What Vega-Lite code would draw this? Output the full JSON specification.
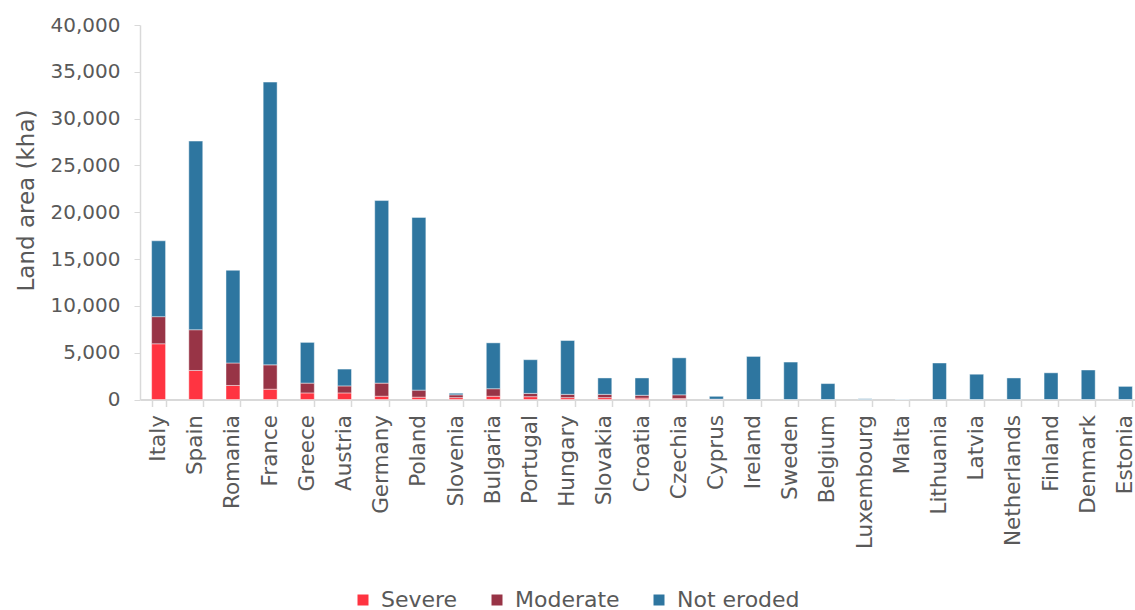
{
  "$schema": "https://vega.github.io/schema/vega-lite/v6.json",
  "autosize": {"type": "none"},
  "width": 995,
  "height": 374.5,
  "padding": {"left": 140, "top": 25, "right": 0, "bottom": 210.5},
  "background": "white",
  "config": {
    "view": {"stroke": null},
    "font": "DejaVu Sans",
    "axis": {"labelColor": "#595959", "titleColor": "#595959", "domainColor": "#d9d9d9", "tickColor": "#d9d9d9", "grid": false, "labelFont": "DejaVu Sans", "titleFont": "DejaVu Sans", "titleFontWeight": "normal"},
    "legend": {"labelColor": "#595959", "labelFont": "DejaVu Sans"}
  },
  "data": {
    "values": [
      {"country": "Italy", "class": "Severe", "kha": 5950}, {"country": "Italy", "class": "Moderate", "kha": 2900}, {"country": "Italy", "class": "Not eroded", "kha": 8100},
      {"country": "Spain", "class": "Severe", "kha": 3100}, {"country": "Spain", "class": "Moderate", "kha": 4350}, {"country": "Spain", "class": "Not eroded", "kha": 20150},
      {"country": "Romania", "class": "Severe", "kha": 1500}, {"country": "Romania", "class": "Moderate", "kha": 2400}, {"country": "Romania", "class": "Not eroded", "kha": 9900},
      {"country": "France", "class": "Severe", "kha": 1100}, {"country": "France", "class": "Moderate", "kha": 2600}, {"country": "France", "class": "Not eroded", "kha": 30200},
      {"country": "Greece", "class": "Severe", "kha": 700}, {"country": "Greece", "class": "Moderate", "kha": 1050}, {"country": "Greece", "class": "Not eroded", "kha": 4350},
      {"country": "Austria", "class": "Severe", "kha": 700}, {"country": "Austria", "class": "Moderate", "kha": 750}, {"country": "Austria", "class": "Not eroded", "kha": 1800},
      {"country": "Germany", "class": "Severe", "kha": 350}, {"country": "Germany", "class": "Moderate", "kha": 1400}, {"country": "Germany", "class": "Not eroded", "kha": 19500},
      {"country": "Poland", "class": "Severe", "kha": 250}, {"country": "Poland", "class": "Moderate", "kha": 750}, {"country": "Poland", "class": "Not eroded", "kha": 18450},
      {"country": "Slovenia", "class": "Severe", "kha": 200}, {"country": "Slovenia", "class": "Moderate", "kha": 300}, {"country": "Slovenia", "class": "Not eroded", "kha": 170},
      {"country": "Bulgaria", "class": "Severe", "kha": 350}, {"country": "Bulgaria", "class": "Moderate", "kha": 800}, {"country": "Bulgaria", "class": "Not eroded", "kha": 4900},
      {"country": "Portugal", "class": "Severe", "kha": 300}, {"country": "Portugal", "class": "Moderate", "kha": 350}, {"country": "Portugal", "class": "Not eroded", "kha": 3600},
      {"country": "Hungary", "class": "Severe", "kha": 200}, {"country": "Hungary", "class": "Moderate", "kha": 350}, {"country": "Hungary", "class": "Not eroded", "kha": 5750},
      {"country": "Slovakia", "class": "Severe", "kha": 200}, {"country": "Slovakia", "class": "Moderate", "kha": 350}, {"country": "Slovakia", "class": "Not eroded", "kha": 1750},
      {"country": "Croatia", "class": "Severe", "kha": 150}, {"country": "Croatia", "class": "Moderate", "kha": 300}, {"country": "Croatia", "class": "Not eroded", "kha": 1850},
      {"country": "Czechia", "class": "Severe", "kha": 100}, {"country": "Czechia", "class": "Moderate", "kha": 400}, {"country": "Czechia", "class": "Not eroded", "kha": 3950},
      {"country": "Cyprus", "class": "Severe", "kha": 20}, {"country": "Cyprus", "class": "Moderate", "kha": 20}, {"country": "Cyprus", "class": "Not eroded", "kha": 300},
      {"country": "Ireland", "class": "Severe", "kha": 0}, {"country": "Ireland", "class": "Moderate", "kha": 0}, {"country": "Ireland", "class": "Not eroded", "kha": 4600},
      {"country": "Sweden", "class": "Severe", "kha": 0}, {"country": "Sweden", "class": "Moderate", "kha": 0}, {"country": "Sweden", "class": "Not eroded", "kha": 4000},
      {"country": "Belgium", "class": "Severe", "kha": 0}, {"country": "Belgium", "class": "Moderate", "kha": 0}, {"country": "Belgium", "class": "Not eroded", "kha": 1700},
      {"country": "Luxembourg", "class": "Severe", "kha": 0}, {"country": "Luxembourg", "class": "Moderate", "kha": 0}, {"country": "Luxembourg", "class": "Not eroded", "kha": 80},
      {"country": "Malta", "class": "Severe", "kha": 0}, {"country": "Malta", "class": "Moderate", "kha": 0}, {"country": "Malta", "class": "Not eroded", "kha": 30},
      {"country": "Lithuania", "class": "Severe", "kha": 0}, {"country": "Lithuania", "class": "Moderate", "kha": 0}, {"country": "Lithuania", "class": "Not eroded", "kha": 3900},
      {"country": "Latvia", "class": "Severe", "kha": 0}, {"country": "Latvia", "class": "Moderate", "kha": 0}, {"country": "Latvia", "class": "Not eroded", "kha": 2700},
      {"country": "Netherlands", "class": "Severe", "kha": 0}, {"country": "Netherlands", "class": "Moderate", "kha": 0}, {"country": "Netherlands", "class": "Not eroded", "kha": 2300},
      {"country": "Finland", "class": "Severe", "kha": 0}, {"country": "Finland", "class": "Moderate", "kha": 0}, {"country": "Finland", "class": "Not eroded", "kha": 2850},
      {"country": "Denmark", "class": "Severe", "kha": 0}, {"country": "Denmark", "class": "Moderate", "kha": 0}, {"country": "Denmark", "class": "Not eroded", "kha": 3150},
      {"country": "Estonia", "class": "Severe", "kha": 0}, {"country": "Estonia", "class": "Moderate", "kha": 0}, {"country": "Estonia", "class": "Not eroded", "kha": 1400}
    ]
  },
  "transform": [
    {"calculate": "indexof(['Severe','Moderate','Not eroded'], datum['class'])", "as": "stackOrder"}
  ],
  "mark": {"type": "bar", "stroke": "#ffffff", "strokeWidth": 0.8, "strokeOpacity": 0.55},
  "encoding": {
    "x": {
      "field": "country",
      "type": "nominal",
      "sort": null,
      "scale": {"range": [0, 1004], "paddingInner": 0.625, "paddingOuter": 0.3125},
      "axis": {
        "title": null,
        "labelAngle": -90,
        "labelAlign": "right",
        "labelBaseline": "middle",
        "labelFontSize": 21.5,
        "labelPadding": 8,
        "tickBand": "extent",
        "tickSize": 7,
        "domainWidth": 2,
        "tickWidth": 1.5
      }
    },
    "y": {
      "field": "kha",
      "type": "quantitative",
      "stack": "zero",
      "scale": {"domain": [0, 40000], "nice": false},
      "axis": {
        "title": "Land area (kha)",
        "titleFontSize": 23,
        "titlePadding": 12,
        "titleY": 175,
        "values": [0, 5000, 10000, 15000, 20000, 25000, 30000, 35000, 40000],
        "format": ",.0f",
        "labelFontSize": 20,
        "labelPadding": 14,
        "tickSize": 6,
        "domainWidth": 1.5
      }
    },
    "color": {
      "field": "class",
      "type": "nominal",
      "scale": {"domain": ["Severe", "Moderate", "Not eroded"], "range": ["#ff3441", "#983446", "#2e76a0"]},
      "legend": {
        "title": null,
        "orient": "none",
        "direction": "horizontal",
        "legendX": 212,
        "legendY": 564,
        "symbolType": "square",
        "symbolSize": 121,
        "symbolStrokeWidth": 0,
        "labelFontSize": 22,
        "labelOffset": 7,
        "labelLimit": 300,
        "columnPadding": 28
      }
    },
    "order": {"field": "stackOrder", "type": "quantitative"}
  }
}
